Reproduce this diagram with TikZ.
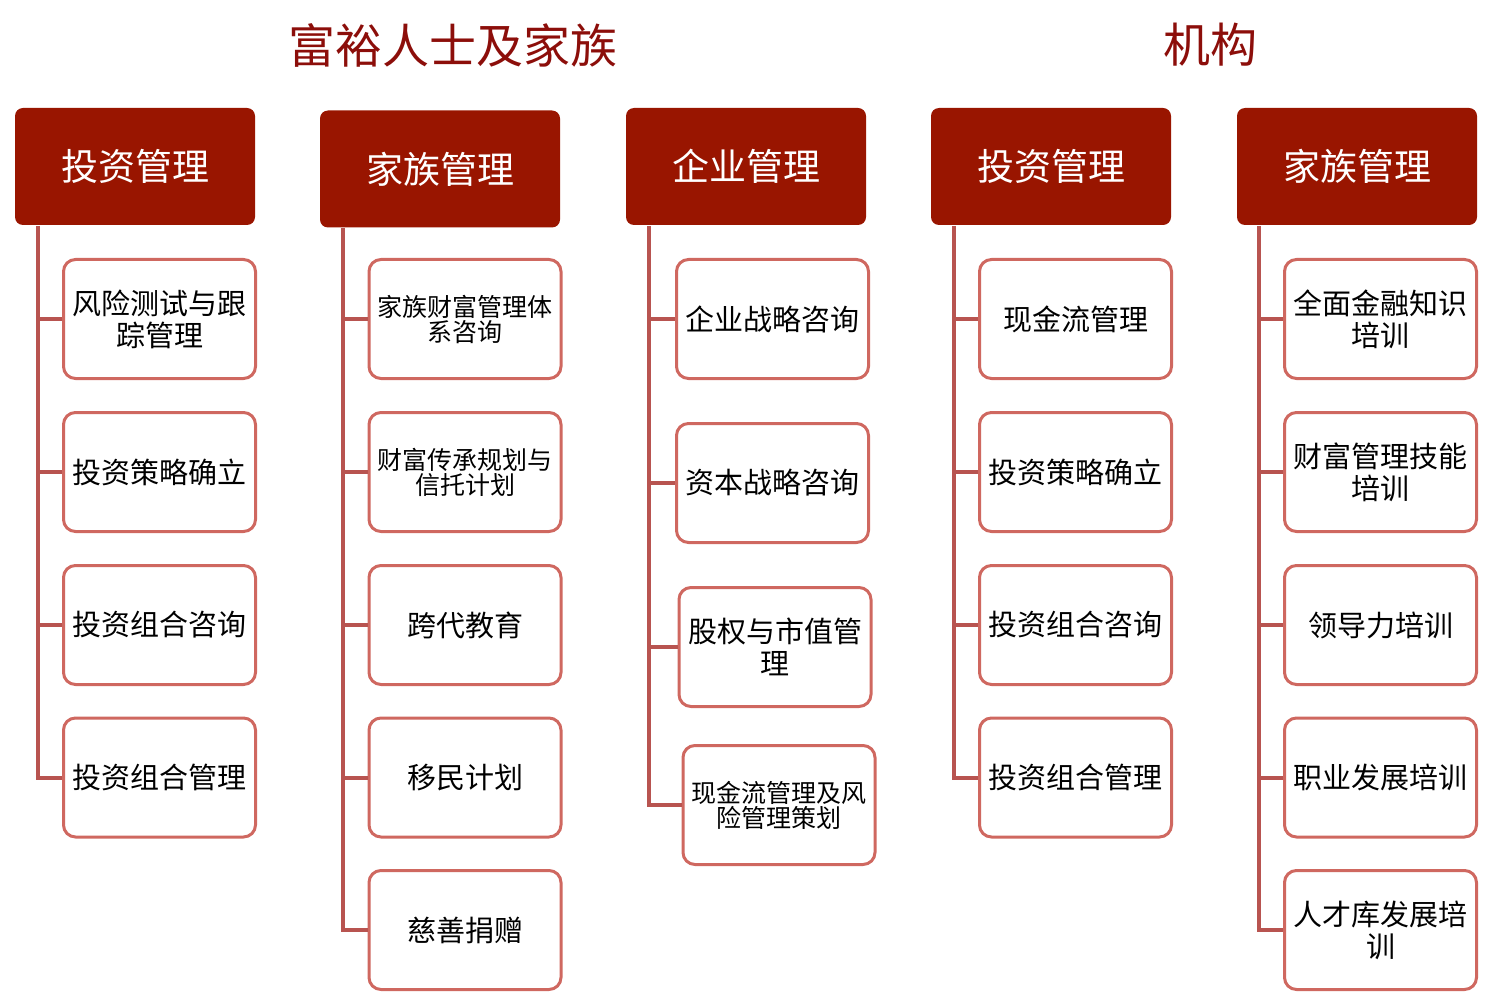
\documentclass[tikz,border=0pt]{standalone}
\usepackage{fontspec}
\setmainfont{Noto Sans CJK SC}
\definecolor{hdr}{RGB}{153,21,0}
\definecolor{bord}{RGB}{207,104,96}
\definecolor{conn}{RGB}{184,84,80}
\definecolor{ttl}{RGB}{140,14,10}
\tikzset{
  hbox/.style={fill=hdr,draw=none,rounded corners=8pt,minimum width=240pt,minimum height=117pt,text=white,font=\fontsize{37}{40}\selectfont,inner sep=0pt},
  cbox/.style={fill=white,draw=bord,line width=3pt,rounded corners=12pt,minimum width=192pt,minimum height=119pt,align=center,font=\fontsize{29}{32}\selectfont,inner sep=0pt},
  sbox/.style={cbox,font=\fontsize{25}{25}\selectfont},
  ttlstyle/.style={text=ttl,font=\fontsize{47}{50}\selectfont,inner sep=0pt},
  link/.style={draw=conn,line width=4pt}
}
\begin{document}
\begin{tikzpicture}[x=1pt,y=-1pt]
\useasboundingbox (0,0) rectangle (1501,1000);
% titles
\node[ttlstyle] (t1) at (453,45) {富裕人士及家族};
\node[ttlstyle] (t2) at (1210,45) {机构};
% headers
\node[hbox] (h1) at (135,166.5) {投资管理};
\node[hbox] (h2) at (440,169) {家族管理};
\node[hbox] (h3) at (746,166.5) {企业管理};
\node[hbox] (h4) at (1051,166.5) {投资管理};
\node[hbox] (h5) at (1357,166.5) {家族管理};
% column 1
\node[cbox] (a1) at (159.5,319) {风险测试与跟\\踪管理};
\node[cbox] (a2) at (159.5,472) {投资策略确立};
\node[cbox] (a3) at (159.5,625) {投资组合咨询};
\node[cbox] (a4) at (159.5,777.5) {投资组合管理};
% column 2
\node[sbox] (b1) at (465,319) {家族财富管理体\\系咨询};
\node[sbox] (b2) at (465,472) {财富传承规划与\\信托计划};
\node[cbox] (b3) at (465,625) {跨代教育};
\node[cbox] (b4) at (465,777.5) {移民计划};
\node[cbox] (b5) at (465,930) {慈善捐赠};
% column 3
\node[cbox] (c1) at (772.5,319) {企业战略咨询};
\node[cbox] (c2) at (772.5,483) {资本战略咨询};
\node[cbox] (c3) at (775,647) {股权与市值管\\理};
\node[sbox] (c4) at (779,805) {现金流管理及风\\险管理策划};
% column 4
\node[cbox] (d1) at (1075.5,319) {现金流管理};
\node[cbox] (d2) at (1075.5,472) {投资策略确立};
\node[cbox] (d3) at (1075.5,625) {投资组合咨询};
\node[cbox] (d4) at (1075.5,777.5) {投资组合管理};
% column 5
\node[cbox] (e1) at (1380.5,319) {全面金融知识\\培训};
\node[cbox] (e2) at (1380.5,472) {财富管理技能\\培训};
\node[cbox] (e3) at (1380.5,625) {领导力培训};
\node[cbox] (e4) at (1380.5,777.5) {职业发展培训};
\node[cbox] (e5) at (1380.5,930) {人才库发展培\\训};
% trunk coordinates
\coordinate (v1) at (38,226);
\coordinate (v2) at (343,228);
\coordinate (v3) at (649,226);
\coordinate (v4) at (954,226);
\coordinate (v5) at (1259,226);
% connectors
\draw[link] (v1) |- (a4.west);
\foreach \n in {a1,a2,a3} \draw[link] (v1 |- \n.west) -- (\n.west);
\draw[link] (v2) |- (b5.west);
\foreach \n in {b1,b2,b3,b4} \draw[link] (v2 |- \n.west) -- (\n.west);
\draw[link] (v3) |- (c4.west);
\foreach \n in {c1,c2,c3} \draw[link] (v3 |- \n.west) -- (\n.west);
\draw[link] (v4) |- (d4.west);
\foreach \n in {d1,d2,d3} \draw[link] (v4 |- \n.west) -- (\n.west);
\draw[link] (v5) |- (e5.west);
\foreach \n in {e1,e2,e3,e4} \draw[link] (v5 |- \n.west) -- (\n.west);
\end{tikzpicture}
\end{document}
